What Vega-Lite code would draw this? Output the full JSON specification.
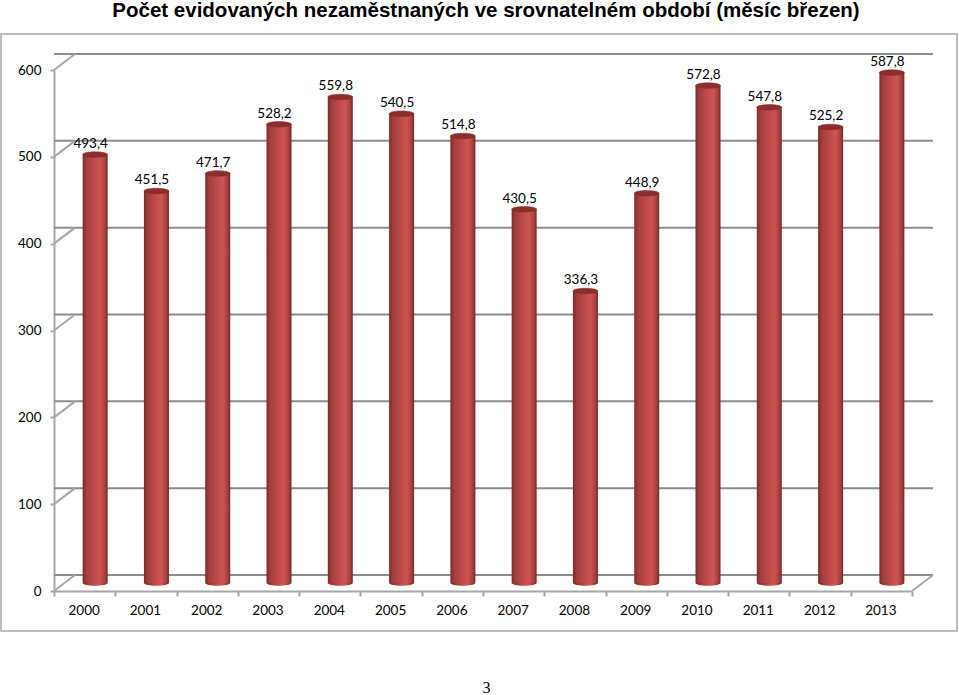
{"$schema":"https://vega.github.io/schema/vega-lite/v6.json","width":858,"height":521,"autosize":{"type":"none"},"padding":{"left":54,"top":70,"right":47,"bottom":104},"background":"white","title":{"text":"Počet evidovaných nezaměstnaných ve srovnatelném období (měsíc březen)","anchor":"middle","frame":"group","offset":12,"dx":3,"font":"Liberation Sans","fontSize":20.5,"fontWeight":"bold","color":"#000000"},"config":{"locale":{"number":{"decimal":",","thousands":" ","grouping":[3],"currency":["","Kč"]}},"view":{"stroke":null}},"datasets":{"bars":[{"year":"2000","v":493.4},{"year":"2001","v":451.5},{"year":"2002","v":471.7},{"year":"2003","v":528.2},{"year":"2004","v":559.8},{"year":"2005","v":540.5},{"year":"2006","v":514.8},{"year":"2007","v":430.5},{"year":"2008","v":336.3},{"year":"2009","v":448.9},{"year":"2010","v":572.8},{"year":"2011","v":547.8},{"year":"2012","v":525.2},{"year":"2013","v":587.8}],"grid":[{"v":0},{"v":100},{"v":200},{"v":300},{"v":400},{"v":500},{"v":600}],"edges":[{"v":0,"edge":0},{"v":100,"edge":0},{"v":200,"edge":0},{"v":300,"edge":0},{"v":400,"edge":0},{"v":500,"edge":0},{"v":600,"edge":0},{"v":0,"edge":14}]},"layer":[{"data":{"values":[{"frame":1}]},"mark":{"type":"rect","fill":null,"stroke":"#bdbdbd","strokeWidth":2,"xOffset":-53,"x2Offset":45,"yOffset":40,"y2Offset":-36},"encoding":{"x":{"datum":0,"type":"quantitative","scale":{"domain":[0,14]},"axis":null},"x2":{"datum":14},"y":{"datum":0,"type":"quantitative"},"y2":{"datum":600}}},{"data":{"name":"grid"},"mark":{"type":"rule","stroke":"#8c8c8c","strokeWidth":2,"xOffset":21,"x2Offset":20,"yOffset":-16},"encoding":{"y":{"field":"v","type":"quantitative","scale":{"domain":[0,600],"nice":false},"axis":{"values":[0,100,200,300,400,500,600],"title":null,"grid":false,"domain":true,"domainColor":"#a6a6a6","domainWidth":2,"tickColor":"#a6a6a6","tickWidth":2,"tickSize":4,"labelFont":"Lato","labelFontSize":13.5,"labelColor":"#000000","labelPadding":9}}}},{"data":{"name":"edges"},"mark":{"type":"rule","stroke":"#a6a6a6","strokeWidth":2,"x2Offset":21,"y2Offset":-16},"encoding":{"x":{"field":"edge","type":"quantitative","scale":{"domain":[0,14]},"axis":null},"x2":{"field":"edge"},"y":{"field":"v","type":"quantitative"},"y2":{"field":"v"}}},{"data":{"name":"bars"},"layer":[{"mark":{"type":"point","filled":true,"opacity":1,"shape":"M-1,0 A1,0.22,0,1,0,1,0 Z","size":625,"xOffset":10.5,"yOffset":-8,"fill":{"gradient":"linear","x1":0,"x2":1,"y1":0,"y2":0,"stops":[{"offset":0,"color":"#7d2b2a"},{"offset":0.5,"color":"#c04c4a"},{"offset":0.7,"color":"#cd5553"},{"offset":1,"color":"#6d2524"}]}},"encoding":{"x":{"field":"year","type":"nominal"},"y":{"datum":0,"type":"quantitative"}}},{"mark":{"type":"bar","size":25,"xOffset":10.5,"yOffset":-8,"y2Offset":-8,"fill":{"gradient":"linear","x1":0,"x2":1,"y1":0,"y2":0,"stops":[{"offset":0,"color":"#7d2b2a"},{"offset":0.15,"color":"#a33e3c"},{"offset":0.5,"color":"#c04c4a"},{"offset":0.7,"color":"#cd5553"},{"offset":0.9,"color":"#a83f3d"},{"offset":1,"color":"#6d2524"}]}},"encoding":{"x":{"field":"year","type":"nominal","scale":{"paddingInner":0,"paddingOuter":0},"axis":{"title":"3","titleFont":"Liberation Serif","titleFontSize":16,"titleFontWeight":"normal","titleColor":"#000000","titlePadding":63,"titleX":432,"labelAngle":0,"labelFont":"Lato","labelFontSize":13.5,"labelColor":"#000000","labelPadding":14,"labelAlign":"center","labelFlush":false,"labelOffset":-1,"domain":true,"domainColor":"#a6a6a6","domainWidth":2,"tickColor":"#a6a6a6","tickWidth":2,"tickSize":5,"tickBand":"extent"}},"y":{"field":"v","type":"quantitative"}}},{"mark":{"type":"point","filled":true,"opacity":1,"shape":"M-1,0 A1,0.22,0,1,1,1,0 A1,0.22,0,1,1,-1,0 Z","size":625,"xOffset":10.5,"yOffset":-8,"fill":"#8a2f2d","stroke":"#7a2826","strokeWidth":0.5},"encoding":{"x":{"field":"year","type":"nominal"},"y":{"field":"v","type":"quantitative"}}},{"mark":{"type":"text","font":"Lato","fontSize":13.5,"color":"#000000","dx":6,"dy":-18.5},"encoding":{"x":{"field":"year","type":"nominal"},"y":{"field":"v","type":"quantitative"},"text":{"field":"v","type":"quantitative","format":".1f"}}}]}],"resolve":{"scale":{"x":"independent"}}}
